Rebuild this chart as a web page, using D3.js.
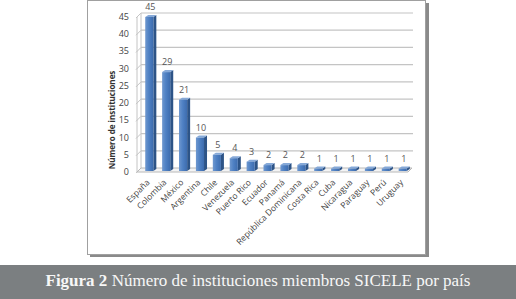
<!DOCTYPE html>
<html>
<head>
<meta charset="utf-8">
<script src="https://cdn.jsdelivr.net/npm/d3@7"></script>
<style>
  body { margin: 0; background: #fff; }
  svg { display: block; }
</style>
</head>
<body>
<div id="container"></div>
<script>
const paises = ["España", "Colombia", "México", "Argentina", "Chile", "Venezuela", "Puerto Rico",
                "Ecuador", "Panamá", "República Dominicana", "Costa Rica", "Cuba", "Nicaragua",
                "Paraguay", "Perú", "Uruguay"];
const instituciones = [45, 29, 21, 10, 5, 4, 3, 2, 2, 2, 1, 1, 1, 1, 1, 1];
const yTicks = [0, 5, 10, 15, 20, 25, 30, 35, 40, 45];

const main = (container) => {
    const W = 516, H = 299;
    const svg = d3.select(container)
        .append("svg")
        .attr("width", W)
        .attr("height", H);

    const defs = svg.append("defs");
    const grad = defs.append("linearGradient")
        .attr("id", "front")
        .attr("x1", "0%").attr("x2", "100%")
        .attr("y1", "0%").attr("y2", "0%");
    grad.append("stop").attr("offset", "0%").attr("stop-color", "#6f98cf");
    grad.append("stop").attr("offset", "45%").attr("stop-color", "#4f81c4");
    grad.append("stop").attr("offset", "100%").attr("stop-color", "#3d6cae");

    // frame with shadow
    svg.append("rect")
        .attr("x", 90).attr("y", 3)
        .attr("width", 339).attr("height", 254)
        .attr("fill", "#8a8a8a");
    svg.append("rect")
        .attr("x", 87.5).attr("y", 0.5)
        .attr("width", 338).attr("height", 254)
        .attr("fill", "#fff")
        .attr("stroke", "#a0a0a0");

    // caption band
    svg.append("rect")
        .attr("x", 0).attr("y", 265)
        .attr("width", W).attr("height", H - 265)
        .attr("fill", "#7b7f81");
    const cap = svg.append("text")
        .attr("x", W / 2).attr("y", 286)
        .attr("text-anchor", "middle")
        .style("font-family", "'Liberation Serif', 'Times New Roman', serif")
        .style("font-size", "17px")
        .attr("fill", "#f7f7f7");
    cap.append("tspan").style("font-weight", "bold").text("Figura 2");
    cap.append("tspan").text(" Número de instituciones miembros SICELE por país");

    // geometry
    const y0 = 172, floorDx = 4, floorDy = 4;
    const xLeft = 137, xRight = 408;

    const x = d3.scaleBand()
        .domain(paises)
        .range([xLeft + 4, xRight + 3])
        .paddingInner(0.52)
        .paddingOuter(0.25);

    const y = d3.scaleLinear()
        .domain([0, 45])
        .range([y0, 17]);

    // back wall gridlines
    svg.append("g")
        .selectAll("line")
        .data(yTicks.slice(1))
        .join("line")
        .attr("x1", xLeft + floorDx)
        .attr("x2", xRight + floorDx + 1)
        .attr("y1", d => y(d) - floorDy)
        .attr("y2", d => y(d) - floorDy)
        .attr("stroke", "#c4c4c4")
        .attr("stroke-width", 1.2);

    // left wall
    svg.append("path")
        .attr("d", `M${xLeft},${y(45)} L${xLeft + floorDx},${y(45) - floorDy} L${xLeft + floorDx},${y0 - floorDy} L${xLeft},${y0}Z`)
        .attr("fill", "none")
        .attr("stroke", "#c4c4c4");
    svg.append("g")
        .selectAll("line")
        .data(yTicks)
        .join("line")
        .attr("x1", xLeft - 1)
        .attr("x2", xLeft + floorDx)
        .attr("y1", d => y(d) + 1)
        .attr("y2", d => y(d) - floorDy)
        .attr("stroke", "#c4c4c4");

    // floor
    svg.append("path")
        .attr("d", `M${xLeft},${y0} L${xRight},${y0} L${xRight + floorDx},${y0 - floorDy} L${xLeft + floorDx},${y0 - floorDy}Z`)
        .attr("fill", "#f4f4f4")
        .attr("stroke", "#b8b8b8");

    // y tick labels
    svg.append("g")
        .selectAll("text")
        .data(yTicks)
        .join("text")
        .attr("x", 129)
        .attr("y", d => y(d) + 3)
        .attr("text-anchor", "end")
        .style("font-family", "'Open Sans', 'Liberation Sans', sans-serif")
        .style("font-size", "9px")
        .attr("fill", "#444")
        .text(d => d);

    // y title
    svg.append("text")
        .attr("transform", "translate(115,120) rotate(-90)")
        .attr("text-anchor", "middle")
        .style("font-family", "'Open Sans', 'Liberation Sans', sans-serif")
        .style("font-size", "8px")
        .style("font-weight", "bold")
        .attr("fill", "#333")
        .text("Número de instituciones");

    // bars
    const bw = x.bandwidth();
    const dx = 3, dy = 2;
    const bars = svg.append("g")
        .selectAll("g")
        .data(paises.map((p, i) => ({ pais: p, valor: instituciones[i] })))
        .join("g");

    bars.append("path")
        .attr("d", d => {
            const x0 = x(d.pais) + bw, yt = y(d.valor);
            return `M${x0},${yt} L${x0 + dx},${yt - dy} L${x0 + dx},${y0 - dy - 1} L${x0},${y0 - 1}Z`;
        })
        .attr("fill", "#2d5487");

    bars.append("path")
        .attr("d", d => {
            const x0 = x(d.pais), yt = y(d.valor);
            return `M${x0},${yt} L${x0 + dx},${yt - dy} L${x0 + bw + dx},${yt - dy} L${x0 + bw},${yt}Z`;
        })
        .attr("fill", "#86a9d8");

    bars.append("rect")
        .attr("x", d => x(d.pais))
        .attr("y", d => y(d.valor))
        .attr("width", bw)
        .attr("height", d => y0 - 1 - y(d.valor))
        .attr("fill", "url(#front)");

    // value labels
    bars.append("text")
        .attr("x", d => x(d.pais) + bw / 2 + 1)
        .attr("y", d => y(d.valor) - 7)
        .attr("text-anchor", "middle")
        .style("font-family", "'Open Sans', 'Liberation Sans', sans-serif")
        .style("font-size", "9px")
        .attr("fill", "#555")
        .text(d => d.valor);

    // x labels
    svg.append("g")
        .selectAll("text")
        .data(paises)
        .join("text")
        .attr("transform", d => `translate(${x(d) + bw / 2 + 1},${y0 + 11}) rotate(-45)`)
        .attr("text-anchor", "end")
        .style("font-family", "'Open Sans', 'Liberation Sans', sans-serif")
        .style("font-size", "8.5px")
        .attr("fill", "#444")
        .text(d => d);
};

const container = document.getElementById("container");
main(container);
</script>
</body>
</html>
